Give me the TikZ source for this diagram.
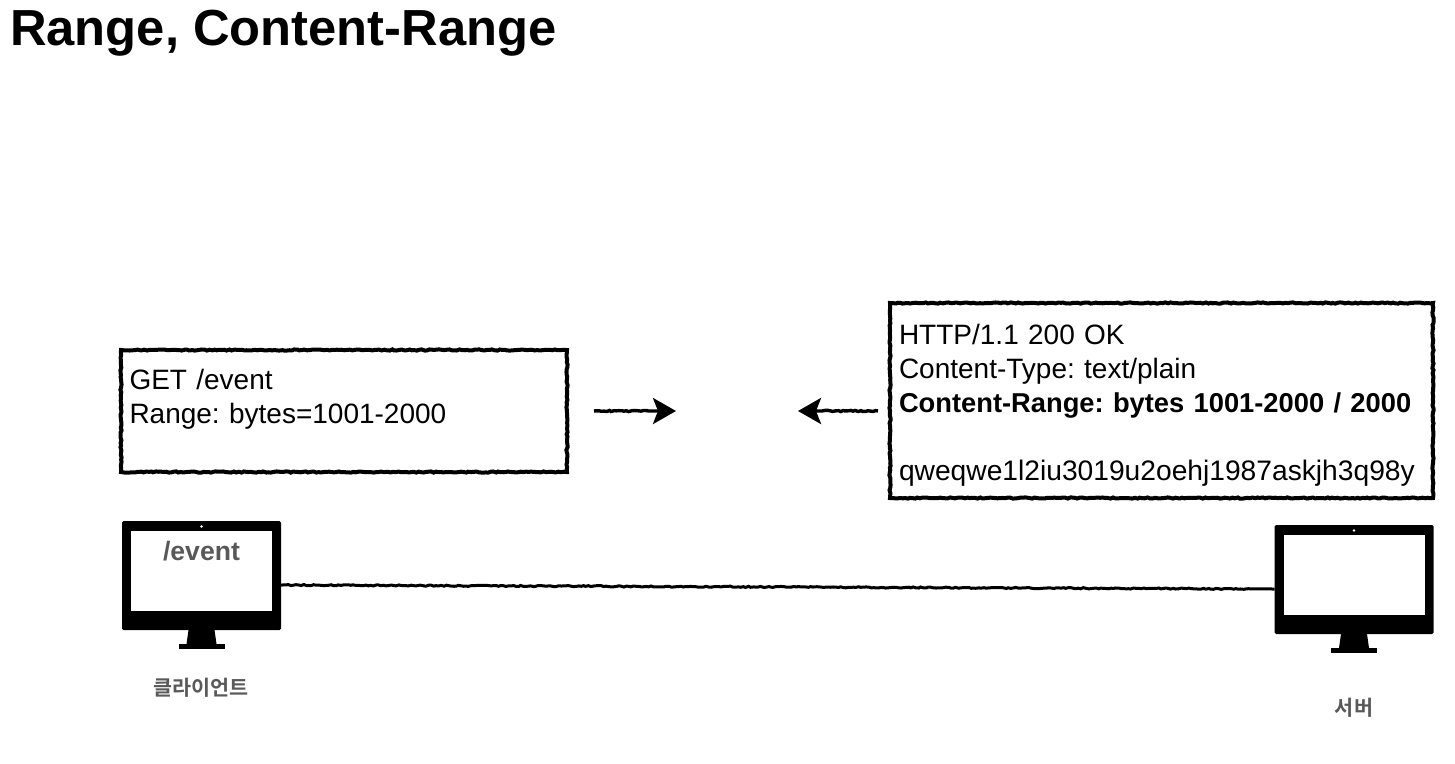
\documentclass[tikz,border=0pt]{standalone}
\usepackage{fontspec}
\setmainfont{Liberation Sans}
\newfontfamily\cjk{Noto Sans CJK KR}[BoldFont={* Bold}]
\usetikzlibrary{arrows.meta, decorations.pathmorphing}
\definecolor{labelgray}{HTML}{595959}
\tikzstyle{rough} = [decorate,
decoration={random steps, segment length=2.5pt, amplitude=0.6pt, post=lineto, post length=24pt}]
\tikzstyle{msgbox} = [rectangle, decorate,
decoration={random steps, segment length=2.5pt, amplitude=0.6pt},
draw=black,
line width=4pt,
inner sep=0pt,
outer sep=0pt,
align=left,
font=\fontsize{28}{34}\selectfont]
\tikzstyle{arrow} = [rough, line width=3.4pt, -{Stealth[length=23pt, width=26pt, inset=5pt]}]
\tikzstyle{wire} = [rough, line width=3pt]
\tikzstyle{body} = [rectangle, rounded corners=1.5pt, fill=black, minimum width=159pt, minimum height=109pt, inner sep=0pt, outer sep=0pt]
\tikzstyle{screen} = [rectangle, fill=white, minimum width=141pt, minimum height=80pt, inner sep=0pt]
\tikzstyle{caption} = [text=labelgray, font=\cjk\bfseries\fontsize{20.7}{24}\selectfont]

% one monitor: name, centre x, top y of the body
\newcommand{\monitor}[3]{
\node (#1) [body, anchor=north] at (#2,#3) {};
\node (#1screen) [screen, anchor=north] at (#2,#3+10) {};
\fill [white] (#2,#3+5.5) circle (1.3pt);
\fill (#2-13,#3+109) -- (#2+13,#3+109) -- (#2+15,#3+123) -- (#2-15,#3+123) -- cycle;
\fill (#2-23,#3+123) rectangle (#2+23,#3+128);
}

\begin{document}
\frenchspacing
\begin{tikzpicture}[x=1pt, y=-1pt]
\useasboundingbox (0,0) rectangle (1455,763);

\node (title) [anchor=base west, inner sep=0pt, font=\bfseries\fontsize{50.7}{60}\selectfont] at (10,45) {Range, Content-Range};

\node (request) [msgbox, anchor=north west, minimum width=446pt, minimum height=122pt, text width=429pt] at (121,350)
{\rule{0pt}{24pt}GET /event\\Range: bytes=1001-2000\\\mbox{}};
\node (response) [msgbox, anchor=north west, minimum width=543pt, minimum height=195pt, text width=525pt] at (890,303)
{\rule{0pt}{30pt}HTTP/1.1 200 OK\\Content-Type: text/plain\\\fontsize{27.3}{34}\selectfont\textbf{Content-Range: bytes 1001-2000 / 2000}\\\mbox{}\\\fontsize{28.2}{34}\selectfont qweqwe1l2iu3019u2oehj1987askjh3q98y};

\monitor{client}{201.5}{521}
\monitor{server}{1354}{525}

\node (path) [anchor=base, text=labelgray, font=\bfseries\fontsize{26.6}{30}\selectfont] at (201.5,560) {/event};
\node (clientname) [caption] at (201,688) {클라이언트};
\node (servername) [caption] at (1354,708) {서버};

\coordinate (reqstart) at (594,411);
\coordinate (reqtip) at (676,411);
\coordinate (respstart) at (878,411);
\coordinate (resptip) at (798,411);

\draw [arrow] (reqstart) -- (reqtip);
\draw [arrow] (respstart) -- (resptip);
\draw [wire] ([yshift=-9.5pt]client.east) -- ([yshift=-9.5pt]server.west);

\end{tikzpicture}
\end{document}
